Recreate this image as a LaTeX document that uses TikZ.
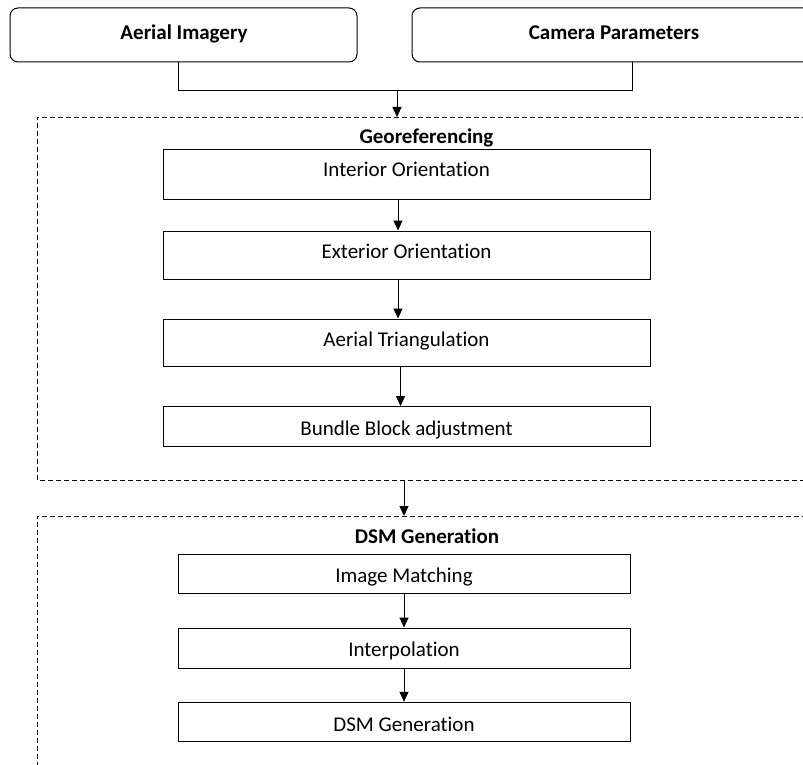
\documentclass[tikz,border=0pt]{standalone}
\usepackage{fontspec}
\setmainfont{Carlito}[Ligatures={NoCommon}]
\usetikzlibrary{arrows.meta}
\begin{document}
\begin{tikzpicture}[x=1pt,y=-1pt,
  inbox/.style={draw, rounded corners=8pt, line width=1pt},
  stepbox/.style={draw, line width=1pt, font=\fontsize{21}{24}\selectfont,
    text height=15pt, text depth=8pt},
  group/.style={draw, dashed, dash pattern=on 5pt off 3pt, line width=0.8pt},
  headtext/.style={font=\fontsize{21}{24}\selectfont\bfseries,
    inner sep=0pt, text height=13.5pt, text depth=0pt},
  link/.style={line width=1pt},
  flow/.style={line width=1pt, -{Triangle[length=10pt,width=9pt]}}]
\useasboundingbox (0,0) rectangle (803,765);
\clip (0,0) rectangle (803,765);
\fill[white] (0,0) rectangle (803,765);

% inputs
\draw[inbox] (10,8) rectangle (357,62);
\node[headtext] (aerial) at (184,33) {Aerial Imagery};
\draw[inbox] (412,8) rectangle (816,62);
\node[headtext] (camera) at (614,33) {Camera Parameters};
\coordinate (aerialB) at (178,62);
\coordinate (cameraB) at (632,62);
\coordinate (joinL) at (178,91);
\coordinate (joinR) at (632,91);
\coordinate (joinM) at (397,91);
\draw[link] (aerialB) -- (joinL) -- (joinR) -- (cameraB);

% georeferencing group
\draw[group] (815,117) -- (37,117) -- (37,480) -- (815,480);
\coordinate (geoT) at (397,117);
\coordinate (geoB) at (404,480);
\draw[flow] (joinM) -- (geoT);
\node[headtext] (geo) at (426.5,136.7) {Georeferencing};

\node[stepbox, minimum width=487pt, minimum height=49pt, text height=14pt, text depth=9.5pt]
  (io) at (406.5,174.5) {Interior Orientation};
\node[stepbox, minimum width=487pt, minimum height=48pt, text height=15.2pt, text depth=8.3pt]
  (eo) at (406.5,255) {Exterior Orientation};
\node[stepbox, minimum width=487pt, minimum height=47pt, text height=15.7pt, text depth=7.8pt]
  (at) at (406.5,342.5) {Aerial Triangulation};
\node[stepbox, minimum width=487pt, minimum height=40pt, text height=20.2pt, text depth=3.3pt]
  (bba) at (406.5,426.6) {Bundle Block adjustment};

\draw[flow] ([xshift=-8.5pt]io.south) -- ([xshift=-8.5pt]eo.north);
\draw[flow] ([xshift=-8.5pt]eo.south) -- ([xshift=-8.5pt]at.north);
\draw[flow] ([xshift=-6pt]at.south) -- ([xshift=-6pt]bba.north);

% DSM generation group
\draw[group] (815,516) -- (37,516) -- (37,780);
\coordinate (dsmT) at (404,516);
\draw[flow] (geoB) -- (dsmT);
\node[headtext] (dsm) at (427,537) {DSM Generation};

\node[stepbox, minimum width=452pt, minimum height=39pt, text height=20pt, text depth=3.5pt]
  (im) at (404,573.8) {Image Matching};
\node[stepbox, minimum width=452pt, minimum height=40pt, text height=19.8pt, text depth=3.7pt]
  (ip) at (404,648) {Interpolation};
\node[stepbox, minimum width=452pt, minimum height=39.4pt, text height=21.5pt, text depth=2pt]
  (dg) at (404,722) {DSM Generation};

\draw[flow] (im) -- (ip);
\draw[flow] (ip) -- (dg);
\end{tikzpicture}
\end{document}
